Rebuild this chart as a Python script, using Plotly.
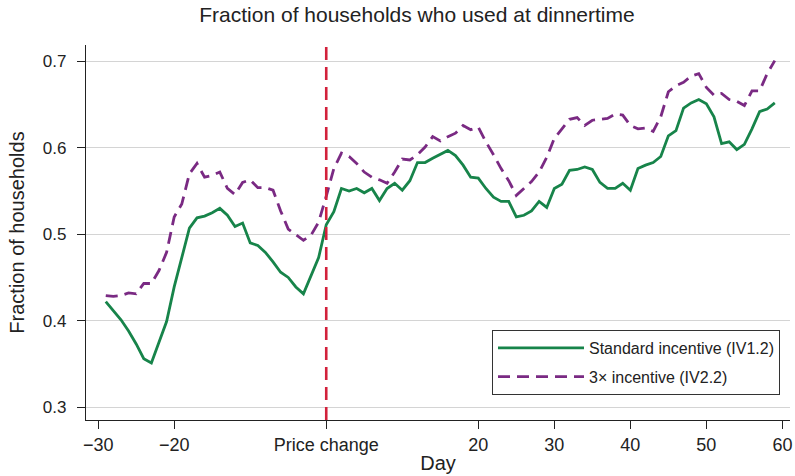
import plotly.graph_objects as go

days = [-29, -28, -27, -26, -25, -24, -23, -22, -21, -20,
        -19, -18, -17, -16, -15, -14, -13, -12, -11, -10,
        -9, -8, -7, -6, -5, -4, -3, -2, -1, 0,
        1, 2, 3, 4, 5, 6, 7, 8, 9, 10,
        11, 12, 13, 14, 15, 16, 17, 18, 19, 20,
        21, 22, 23, 24, 25, 26, 27, 28, 29, 30,
        31, 32, 33, 34, 35, 36, 37, 38, 39, 40,
        41, 42, 43, 44, 45, 46, 47, 48, 49, 50,
        51, 52, 53, 54, 55, 56, 57, 58, 59]

standard = [0.422, 0.412, 0.401, 0.388, 0.373, 0.356, 0.351, 0.375, 0.399, 0.439,
            0.473, 0.507, 0.519, 0.521, 0.525, 0.530, 0.522, 0.509, 0.513, 0.490,
            0.487, 0.479, 0.468, 0.456, 0.450, 0.439, 0.431, 0.452, 0.473, 0.511,
            0.526, 0.553, 0.550, 0.553, 0.548, 0.553, 0.539, 0.553, 0.559, 0.551,
            0.562, 0.583, 0.583, 0.588, 0.593, 0.597, 0.591, 0.580, 0.566, 0.565,
            0.553, 0.543, 0.538, 0.538, 0.520, 0.522, 0.527, 0.538, 0.531, 0.553,
            0.558, 0.574, 0.575, 0.578, 0.575, 0.560, 0.553, 0.553, 0.559, 0.551,
            0.576, 0.580, 0.583, 0.590, 0.614, 0.620, 0.646, 0.652, 0.656, 0.651,
            0.636, 0.605, 0.607, 0.598, 0.604, 0.622, 0.642, 0.645, 0.652]

triple = [0.429, 0.428, 0.429, 0.432, 0.431, 0.443, 0.443, 0.458, 0.479, 0.520,
          0.535, 0.570, 0.582, 0.566, 0.568, 0.572, 0.553, 0.546, 0.560, 0.563,
          0.554, 0.554, 0.551, 0.527, 0.506, 0.500, 0.493, 0.499, 0.514, 0.544,
          0.576, 0.594, 0.590, 0.582, 0.572, 0.566, 0.563, 0.559, 0.572, 0.587,
          0.586, 0.592, 0.601, 0.613, 0.608, 0.613, 0.617, 0.626, 0.621, 0.624,
          0.607, 0.592, 0.576, 0.562, 0.545, 0.553, 0.561, 0.572, 0.589, 0.611,
          0.622, 0.633, 0.635, 0.626, 0.632, 0.633, 0.634, 0.639, 0.638, 0.626,
          0.622, 0.623, 0.619, 0.636, 0.665, 0.672, 0.676, 0.683, 0.686, 0.670,
          0.661, 0.663, 0.656, 0.654, 0.649, 0.666, 0.666, 0.686, 0.701]

x_tickvals = [-30, -20, 0, 20, 30, 40, 50, 60]
x_ticktext = ["\u221230", "\u221220", "Price change", "20", "30", "40", "50", "60"]
y_tickvals = [0.3, 0.4, 0.5, 0.6, 0.7]
y_ticktext = ["0.3", "0.4", "0.5", "0.6", "0.7"]
price_change_day = 0

series_names = ["Standard incentive (IV1.2)", "3\u00d7 incentive (IV2.2)"]

GREEN = "#17844a"
PURPLE = "#7a2a83"
RED = "#d2213b"
TXT = "#222222"
FONT = "Liberation Sans, Arial, Helvetica, sans-serif"

fig = go.Figure()
fig.add_trace(go.Scatter(x=days, y=standard, mode="lines", name=series_names[0],
                         line=dict(color=GREEN, width=2.8),
                         legendgroup="a"))
fig.add_trace(go.Scatter(x=days, y=triple, mode="lines", name=series_names[1],
                         line=dict(color=PURPLE, width=2.8, dash="12px,7px"),
                         legendgroup="b"))

fig.add_shape(type="line", xref="x", yref="paper",
              x0=price_change_day, x1=price_change_day, y0=0, y1=1,
              line=dict(color=RED, width=2.6, dash="13px,7px"), layer="above")

PLOT_W = 795 - 86 - 5
fig.update_layout(
    width=795, height=476,
    margin=dict(l=86, r=5, t=45, b=56),
    paper_bgcolor="white", plot_bgcolor="white",
    font=dict(family=FONT, color=TXT, size=17),
    title=dict(text="Fraction of households who used at dinnertime",
               x=417 / 795, xanchor="center", xref="container",
               y=1 - 15 / 476, yanchor="middle", yref="container",
               font=dict(size=21, color=TXT, family=FONT)),
    showlegend=True,
    legend=dict(x=(492 - 86) / PLOT_W, y=(420 - 330) / 375, xanchor="left", yanchor="top",
                bgcolor="white", bordercolor="#333333", borderwidth=1,
                font=dict(size=16, color=TXT, family=FONT),
                itemwidth=86, traceorder="grouped", tracegroupgap=5),
    xaxis=dict(range=[-31.6, 61.0], tickvals=x_tickvals, ticktext=x_ticktext,
               automargin=False, ticklabeloverflow="allow",
               showgrid=False, zeroline=False, showline=True, linecolor="#222222",
               linewidth=1.3, ticks="outside", ticklen=8, tickwidth=1.3, tickcolor="#222222",
               tickfont=dict(size=18, color=TXT),
               title=dict(text="Day", font=dict(size=20, color=TXT), standoff=2)),
    yaxis=dict(range=[0.28495, 0.7191], tickvals=y_tickvals, ticktext=y_ticktext,
               automargin=False,
               showgrid=True, gridcolor="#d4d4d4", gridwidth=1,
               zeroline=False, showline=True, linecolor="#222222", linewidth=1.3,
               ticks="outside", ticklen=8, tickwidth=1.3, tickcolor="#222222",
               ticklabelstandoff=7,
               tickfont=dict(size=17, color=TXT),
               title=dict(text="Fraction of households", font=dict(size=20, color=TXT), standoff=12)),
)

fig.write_html("out.html", config={"displayModeBar": False},
               post_script="document.body.style.margin='0';")
